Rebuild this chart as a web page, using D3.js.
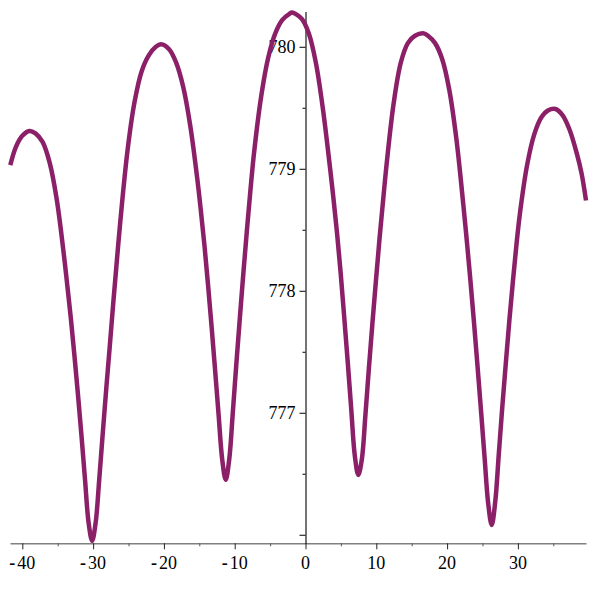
<!DOCTYPE html>
<html>
<head>
<meta charset="utf-8">
<script src="https://cdn.jsdelivr.net/npm/d3@7"></script>
<style>
  html, body { margin: 0; padding: 0; background: #fff; }
  svg { display: block; }
  .lbl { font-family: "Liberation Serif", "Times New Roman", serif; font-size: 18px; fill: #000; }
</style>
</head>
<body>
<svg id="chart" width="596" height="596"></svg>
<script>
// ---- data ----
const curveX = [
  -41.7, -40.9, -40.0, -39.0, -38.14, -37.14, -36.14, -35.14, -34.14, -33.64, -33.14, -32.64, -32.14, -31.64, -31.14, -30.64, -30.14,
  -29.64, -29.14, -28.64, -28.14, -27.64, -27.14, -26.64, -26.14, -25.14, -24.14, -23.14, -22.14, -21.14, -20.4,
  -19.27, -18.27, -17.27, -16.27, -15.27, -14.77, -14.27, -13.77, -13.27, -12.77, -12.27, -11.77, -11.27,
  -10.77, -10.27, -9.77, -9.27, -8.77, -8.27, -7.77, -7.27, -6.27, -5.27, -4.27, -3.27, -2.27, -1.9,
  -0.54, 0.46, 1.46, 2.46, 3.46, 3.96, 4.46, 4.96, 5.46, 5.96, 6.46, 6.96, 7.46,
  7.96, 8.46, 8.96, 9.46, 9.96, 10.46, 10.96, 11.46, 12.46, 13.46, 14.46, 15.46, 16.7,
  17.3, 18.3, 19.3, 20.3, 21.3, 22.3, 22.8, 23.3, 23.8, 24.3, 24.8, 25.3, 25.8, 26.3,
  26.8, 27.3, 27.8, 28.3, 28.8, 29.3, 29.8, 30.3, 31.3, 32.3, 33.3, 34.3, 35.3,
  36.3, 37.3, 38.3, 39.0, 39.62];
const curveY = [
  779.03, 779.18, 779.27, 779.31, 779.29, 779.22, 779.05, 778.75, 778.30, 778.04, 777.77, 777.47, 777.15, 776.81, 776.45, 776.10, 775.95,
  776.10, 776.45, 776.83, 777.20, 777.55, 777.91, 778.25, 778.58, 779.15, 779.55, 779.80, 779.93, 780.00, 780.02,
  779.98, 779.87, 779.67, 779.35, 778.91, 778.65, 778.37, 778.05, 777.71, 777.35, 776.98, 776.62, 776.45,
  776.62, 777.00, 777.40, 777.78, 778.15, 778.50, 778.83, 779.13, 779.59, 779.91, 780.11, 780.22, 780.27, 780.28,
  780.23, 780.11, 779.87, 779.49, 779.01, 778.75, 778.47, 778.15, 777.79, 777.42, 777.03, 776.65, 776.49,
  776.62, 776.98, 777.37, 777.74, 778.09, 778.43, 778.74, 779.04, 779.54, 779.87, 780.03, 780.09, 780.11,
  780.09, 780.03, 779.90, 779.65, 779.25, 778.70, 778.40, 778.08, 777.74, 777.38, 777.01, 776.63, 776.26, 776.08,
  776.27, 776.66, 777.05, 777.41, 777.76, 778.08, 778.38, 778.64, 779.03, 779.28, 779.42, 779.48, 779.49,
  779.44, 779.32, 779.13, 778.96, 778.74];

const xMajorTicks = [-40, -30, -20, -10, 0, 10, 20, 30];
const xMinorTicks = [-35, -25, -15, -5, 5, 15, 25, 35];
const yMajorTicks = [776, 777, 778, 779, 780];
const yLabelTicks = [777, 778, 779, 780];
const yMinorTicks = [776.5, 777.5, 778.5, 779.5];

const xDomain = [-41.74, 39.62];
const yDomain = [775.93, 780.29];

// ---- layout ----
const svg = d3.select("#chart");
const x = d3.scaleLinear().domain(xDomain).range([10, 586]);
const y = d3.scaleLinear().domain(yDomain).range([543.3, 11.4]);

const x0 = x(0);
const yAxisY = y(yDomain[0]);

// x axis (gray line), major ticks
const gx = svg.append("g").attr("transform", `translate(0,${yAxisY})`);
gx.call(d3.axisBottom(x).tickValues(xMajorTicks).tickSize(6).tickSizeOuter(0).tickFormat(() => ""));
gx.select(".domain").attr("stroke", "#808080").attr("stroke-width", 1.4);
gx.selectAll(".tick line").attr("stroke", "#222").attr("stroke-width", 1);

const gxm = svg.append("g").attr("transform", `translate(0,${yAxisY})`);
gxm.call(d3.axisBottom(x).tickValues(xMinorTicks).tickSize(3).tickSizeOuter(0).tickFormat(() => ""));
gxm.select(".domain").remove();
gxm.selectAll(".tick line").attr("stroke", "#555").attr("stroke-width", 1);

// x labels
const xl = svg.append("g");
xMajorTicks.forEach(v => {
  const t = xl.append("text").attr("class", "lbl")
    .attr("x", x(v)).attr("y", 569).attr("text-anchor", "middle");
  if (v < 0) {
    t.append("tspan").attr("font-weight", "bold").text("-");
    t.append("tspan").attr("dx", 2).text(String(Math.abs(v)));
  } else {
    t.text(String(v));
  }
});

// y axis (black)
const gy = svg.append("g").attr("transform", `translate(${x0},0)`);
gy.call(d3.axisLeft(y).tickValues(yMajorTicks).tickSize(6).tickSizeOuter(0).tickFormat(() => ""));
gy.select(".domain").attr("stroke", "#000").attr("stroke-width", 1.1);
gy.selectAll(".tick line").attr("stroke", "#000").attr("stroke-width", 1);

const gym = svg.append("g").attr("transform", `translate(${x0},0)`);
gym.call(d3.axisLeft(y).tickValues(yMinorTicks).tickSize(3).tickSizeOuter(0).tickFormat(() => ""));
gym.select(".domain").remove();
gym.selectAll(".tick line").attr("stroke", "#000").attr("stroke-width", 1);

// y labels
svg.append("g").selectAll("text").data(yLabelTicks).join("text")
  .attr("class", "lbl")
  .attr("x", x0 - 10).attr("y", d => y(d) + 6)
  .attr("text-anchor", "end")
  .text(d => d);

// curve
const pts = curveX.map((v, i) => [v, curveY[i]]);
const line = d3.line().x(d => x(d[0])).y(d => y(d[1])).curve(d3.curveCatmullRom.alpha(0.5));
svg.append("path").datum(pts)
  .attr("d", line)
  .attr("fill", "none")
  .attr("stroke", "#8c2068")
  .attr("stroke-width", 4.5)
  .attr("stroke-linejoin", "round")
  .attr("stroke-linecap", "butt");
</script>
</body>
</html>
